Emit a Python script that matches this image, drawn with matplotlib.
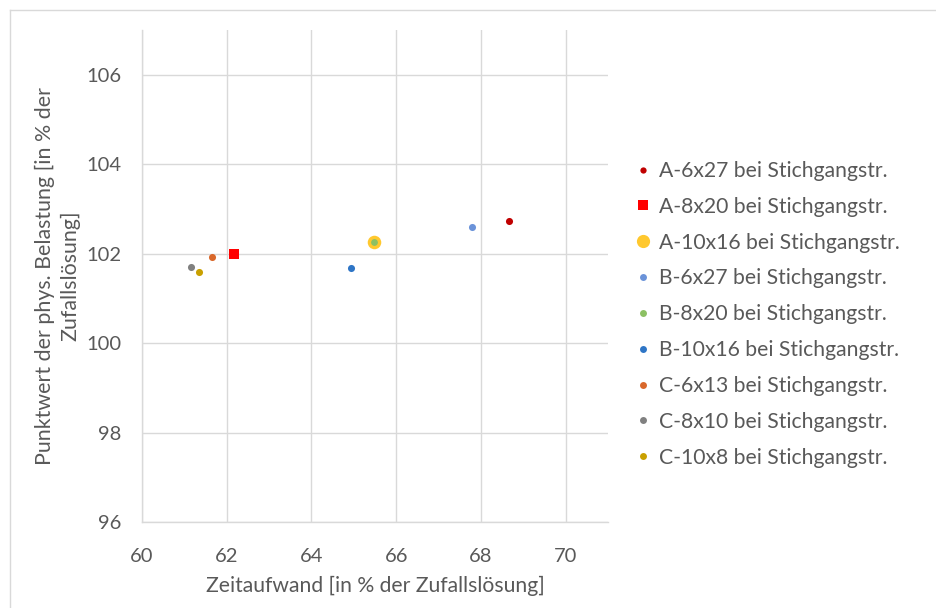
import matplotlib
matplotlib.use("Agg")
import matplotlib.pyplot as plt
from matplotlib.lines import Line2D

plt.rcParams["font.family"] = ["Lato", "DejaVu Sans"]

# Scatter series: (Zeitaufwand, Punktwert) per layout variant
labels = [
    "A-6x27 bei Stichgangstr.",
    "A-8x20 bei Stichgangstr.",
    "A-10x16 bei Stichgangstr.",
    "B-6x27 bei Stichgangstr.",
    "B-8x20 bei Stichgangstr.",
    "B-10x16 bei Stichgangstr.",
    "C-6x13 bei Stichgangstr.",
    "C-8x10 bei Stichgangstr.",
    "C-10x8 bei Stichgangstr.",
]
zeit = [68.67, 62.17, 65.48, 67.80, 65.48, 64.94, 61.65, 61.16, 61.34]
punkt = [102.74, 102.00, 102.25, 102.59, 102.25, 101.69, 101.93, 101.70, 101.58]

x_ticks = [60, 62, 64, 66, 68, 70]
y_ticks = [96, 98, 100, 102, 104, 106]

colors = ["#C00000", "#FF0000", "#FFC82E", "#6B93D9", "#8CC063",
          "#2E75C6", "#D9682B", "#808080", "#C9A000"]
markers = ["o", "s", "o", "o", "o", "o", "o", "o", "o"]
sizes = [26, 52, 95, 26, 24, 26, 26, 26, 26]
legend_ms = [4.5, 6.5, 9.5, 5, 5, 5, 5, 5, 5]

text_col = "#595959"
grid_col = "#D9D9D9"

fig = plt.figure(figsize=(9.36, 6.08), dpi=100)
ax = fig.add_axes([142 / 936, 1 - 522 / 608, (608 - 142) / 936, (522 - 30) / 608])

for x, y, c, m, s in zip(zeit, punkt, colors, markers, sizes):
    ax.scatter(x, y, s=s, c=c, marker=m, linewidths=0, zorder=3)

ax.set_xlim(60, 71)
ax.set_ylim(96, 107)
ax.set_xticks(x_ticks)
ax.set_yticks(y_ticks)
ax.grid(True, color=grid_col, linewidth=1.0)
ax.set_axisbelow(True)
ax.tick_params(length=0, labelsize=14.5, colors=text_col)
ax.tick_params(axis="x", pad=19)
ax.tick_params(axis="y", pad=15)

for side in ["top", "right"]:
    ax.spines[side].set_visible(False)
for side in ["left", "bottom"]:
    ax.spines[side].set_color(grid_col)
    ax.spines[side].set_linewidth(1.0)

ax.set_xlabel("Zeitaufwand [in % der Zufallslösung]", fontsize=15.2,
              color=text_col)
ax.xaxis.set_label_coords(0.5, (522 - 576) / 492)
ax.set_ylabel("Punktwert der phys. Belastung [in % der\nZufallslösung]",
              fontsize=15.4, color=text_col, linespacing=1.3)
ax.yaxis.set_label_coords((80 - 142) / 466, 0.5)

handles = [Line2D([], [], linestyle="none", marker=m, color=c,
                  markersize=ms, markeredgewidth=0)
           for c, m, ms in zip(colors, markers, legend_ms)]
leg = fig.legend(handles, labels, loc="upper left",
                 bbox_to_anchor=(637 / 936, 1 - 161 / 608),
                 frameon=False, fontsize=15.2, labelcolor=text_col,
                 handlelength=0.6, handletextpad=0.45, labelspacing=0.75,
                 borderaxespad=0, borderpad=0)

# thin frame around the chart area
fig.add_artist(Line2D([10 / 936, 10 / 936], [0, 1 - 9.5 / 608],
                      transform=fig.transFigure, color=grid_col, linewidth=1.0))
fig.add_artist(Line2D([10 / 936, 1], [1 - 9.5 / 608, 1 - 9.5 / 608],
                      transform=fig.transFigure, color=grid_col, linewidth=1.0))

fig.savefig("out.png", dpi=100)
